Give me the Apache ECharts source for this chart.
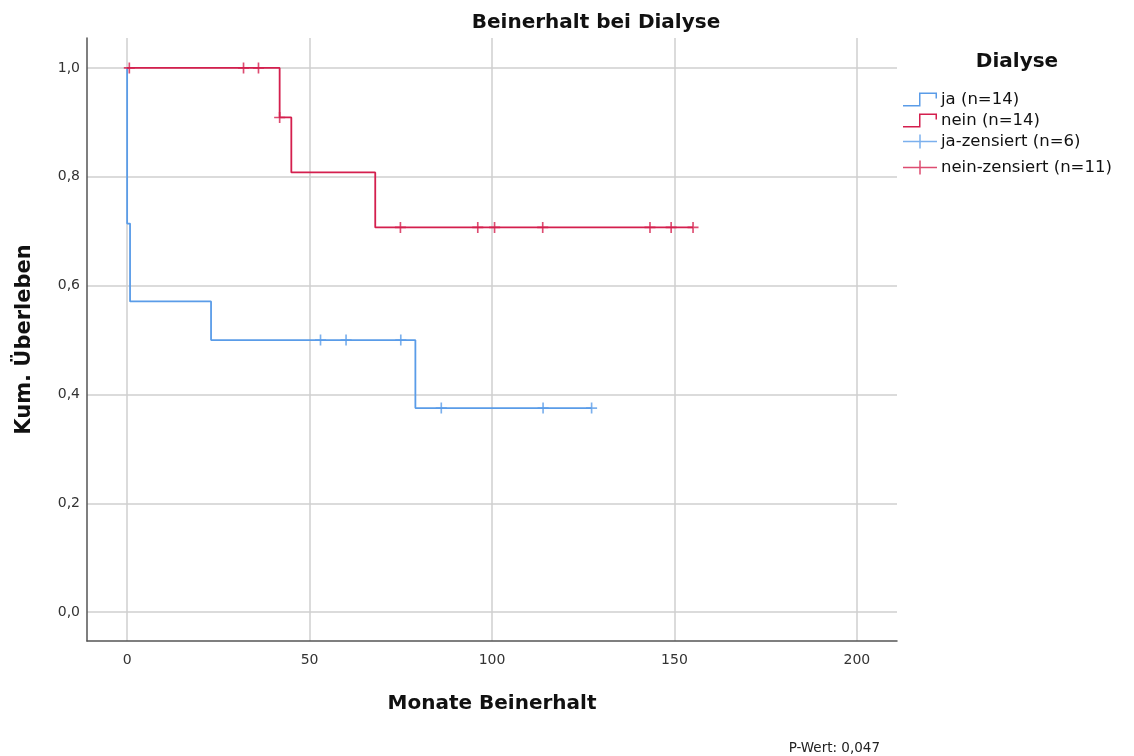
<!DOCTYPE html>
<html>
<head>
<meta charset="utf-8">
<script src="https://cdn.jsdelivr.net/npm/echarts@6/dist/echarts.min.js"></script>
<style>
html,body{margin:0;padding:0;background:#fff;}
#chart{width:1134px;height:756px;}
</style>
</head>
<body>
<div id="chart"></div>
<script>
// Kaplan-Meier step curves (time in months, cumulative survival)
var jaTimes = [0, 0, 0.8, 23, 79, 127.3];
var jaSurv  = [1.0, 0.714, 0.571, 0.5, 0.375, 0.375];
var neinTimes = [0, 41.8, 45, 68, 155.1];
var neinSurv  = [1.0, 0.909, 0.808, 0.707, 0.707];
// censored observations
var jaCensTimes = [53, 60, 75, 86.1, 114, 127.3];
var jaCensSurv  = [0.5, 0.5, 0.5, 0.375, 0.375, 0.375];
var neinCensTimes = [0.6, 31.9, 36, 41.8, 74.9, 96.1, 100.7, 113.9, 143.3, 149.1, 155.1];
var neinCensSurv  = [1.0, 1.0, 1.0, 0.909, 0.707, 0.707, 0.707, 0.707, 0.707, 0.707, 0.707];
// ticks
var xTicks = [0, 50, 100, 150, 200];
var yTicks = [0, 0.2, 0.4, 0.6, 0.8, 1.0];
var seriesNames = ['ja (n=14)', 'nein (n=14)', 'ja-zensiert (n=6)', 'nein-zensiert (n=11)'];

function zip(a, b) { return a.map(function (v, i) { return [v, b[i]]; }); }

var BLUE = '#5a9ce8';
var RED = '#d41f4e';
var FONT = "'DejaVu Sans', sans-serif";

var plusPath = 'path://M4.25,0h1.5v10h-1.5zM0,4.25h10v1.5h-10z';
var stepIcon = 'path://M0,12.5h17.5v1.5h-17.5zM16,0h1.5v14h-1.5zM16,0h18v1.5h-18zM32.5,0h1.5v6h-1.5z';
var plusIcon = 'path://M0,6.25h34v1.5h-34zM16.25,0h1.5v14h-1.5z';

var chart = echarts.init(document.getElementById('chart'), null, {renderer: 'canvas'});
chart.setOption({
  backgroundColor: '#ffffff',
  animation: false,
  title: [
    {text: 'Beinerhalt bei Dialyse', left: 591, top: 8, textAlign: 'center',
     textStyle: {fontFamily: FONT, fontSize: 20, fontWeight: 'bold', color: '#111'}},
    {text: 'Dialyse', left: 1012, top: 47, textAlign: 'center',
     textStyle: {fontFamily: FONT, fontSize: 20, fontWeight: 'bold', color: '#111'}},
    {text: 'P-Wert: 0,047', right: 249, top: 736,
     textStyle: {fontFamily: FONT, fontSize: 13.5, fontWeight: 'normal', color: '#222'}}
  ],
  legend: [
    {left: 898, top: 86, orient: 'vertical', itemWidth: 34, itemHeight: 14, itemGap: 4,
     textStyle: {fontFamily: FONT, fontSize: 16.5, color: '#111', padding: [0,0,0,-1]},
     itemStyle: {borderWidth: 0},
     data: [
       {name: seriesNames[0], icon: stepIcon, itemStyle: {color: BLUE}},
       {name: seriesNames[1], icon: stepIcon, itemStyle: {color: RED}},
       {name: seriesNames[2], icon: plusIcon, itemStyle: {color: BLUE}}
     ]},
    {left: 898, top: 154, orient: 'vertical', itemWidth: 34, itemHeight: 14,
     textStyle: {fontFamily: FONT, fontSize: 16.5, color: '#111', padding: [0,0,0,-1]},
     itemStyle: {borderWidth: 0},
     data: [
       {name: seriesNames[3], icon: plusIcon, itemStyle: {color: RED}}
     ]}
  ],
  grid: {left: 87, right: 237, top: 38, bottom: 115, containLabel: false},
  xAxis: {
    type: 'value', min: -11, max: 211,
    name: 'Monate Beinerhalt', nameLocation: 'middle', nameGap: 53,
    nameTextStyle: {fontFamily: FONT, fontSize: 20, fontWeight: 'bold', color: '#111'},
    axisLine: {show: true, onZero: false, lineStyle: {color: '#555', width: 1.5}},
    axisTick: {show: false, customValues: xTicks},
    axisLabel: {customValues: xTicks, margin: 12, fontFamily: FONT, fontSize: 14, color: '#333'},
    splitLine: {show: true, lineStyle: {color: '#cfcfcf', width: 1.5}}
  },
  yAxis: {
    type: 'value', min: -0.053, max: 1.055,
    name: 'Kum. Überleben', nameLocation: 'middle', nameGap: 52, nameRotate: 90,
    nameTextStyle: {fontFamily: FONT, fontSize: 21, fontWeight: 'bold', color: '#111'},
    axisLine: {show: true, onZero: false, lineStyle: {color: '#555', width: 1.5}},
    axisTick: {show: false, customValues: yTicks},
    axisLabel: {customValues: yTicks, margin: 7, fontFamily: FONT, fontSize: 14, color: '#333',
      formatter: function (v) { return v.toFixed(1).replace('.', ','); }},
    splitLine: {show: true, lineStyle: {color: '#cfcfcf', width: 1.5}}
  },
  series: [
    {name: seriesNames[0], type: 'line', step: 'end', data: zip(jaTimes, jaSurv),
     showSymbol: false, symbol: 'none', lineStyle: {color: BLUE, width: 1.8}, itemStyle: {color: BLUE}, z: 3},
    {name: seriesNames[1], type: 'line', step: 'end', data: zip(neinTimes, neinSurv),
     showSymbol: false, symbol: 'none', lineStyle: {color: RED, width: 1.8}, itemStyle: {color: RED}, z: 3},
    {name: seriesNames[2], type: 'scatter', data: zip(jaCensTimes, jaCensSurv),
     symbol: plusPath, symbolSize: 11, itemStyle: {color: BLUE}, z: 4},
    {name: seriesNames[3], type: 'scatter', data: zip(neinCensTimes, neinCensSurv),
     symbol: plusPath, symbolSize: 11, itemStyle: {color: RED}, z: 4}
  ]
});
</script>
</body>
</html>
